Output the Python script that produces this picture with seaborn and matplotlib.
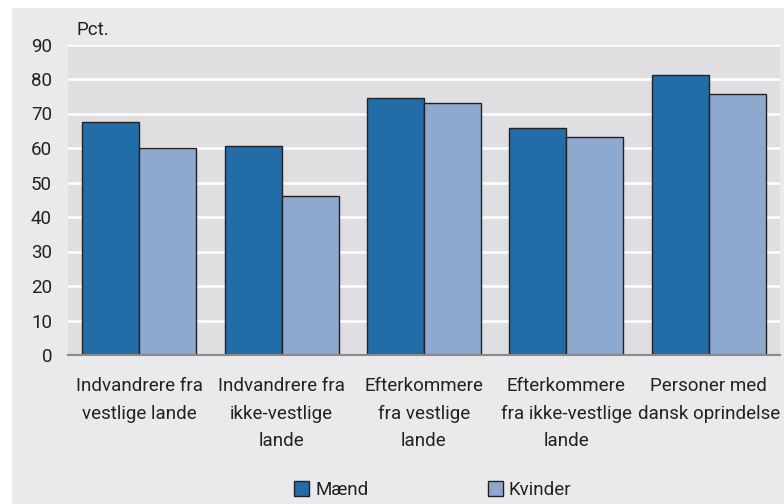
import matplotlib
matplotlib.use("Agg")
import matplotlib.pyplot as plt
import seaborn as sns
import pandas as pd
from matplotlib.patches import Rectangle, Patch

# data
categories = [
    "Indvandrere fra\nvestlige lande",
    "Indvandrere fra\nikke-vestlige\nlande",
    "Efterkommere\nfra vestlige\nlande",
    "Efterkommere\nfra ikke-vestlige\nlande",
    "Personer med\ndansk oprindelse",
]
maend = [67.4, 60.5, 74.5, 65.7, 81.1]
kvinder = [59.9, 46.0, 73.0, 63.3, 75.6]
series_names = ["Mænd", "Kvinder"]
yticks = [0, 10, 20, 30, 40, 50, 60, 70, 80, 90]

colors = ["#226CA8", "#8EA8CE"]

df = pd.DataFrame({
    "gruppe": categories * 2,
    "køn": [series_names[0]] * len(categories) + [series_names[1]] * len(categories),
    "pct": maend + kvinder,
})

sns.set_theme(style="white")
plt.rcParams['font.family'] = ['Roboto', 'DejaVu Sans']
plt.rcParams['text.color'] = '#222222'

fig = plt.figure(figsize=(7.84, 5.04), dpi=100)
fig.patch.set_facecolor("white")
# light grey panel behind the whole chart
fig.patches.append(Rectangle((12 / 784, 0), 1 - 12 / 784, 1 - 8 / 504,
                             transform=fig.transFigure, facecolor="#EAEAEC",
                             edgecolor="none", zorder=-5))

ax = fig.add_axes([68 / 784, 1 - 355 / 504, 712 / 784, 310.5 / 504])
sns.barplot(data=df, x="gruppe", y="pct", hue="køn", palette=colors,
            width=0.8, edgecolor="#222222", linewidth=1.0, ax=ax,
            legend=False, saturation=1)

ax.set_facecolor("#DFDFE1")
ax.set_ylim(0, 90)
ax.set_yticks(yticks)
ax.yaxis.grid(True, color="white", linewidth=1.8)
ax.set_axisbelow(True)
for s in ["top", "right", "left"]:
    ax.spines[s].set_visible(False)
ax.spines["bottom"].set_color("#8A8A8A")
ax.spines["bottom"].set_linewidth(1.5)
ax.tick_params(axis="both", length=0, colors="#222222")
ax.tick_params(axis="y", pad=11.5, labelsize=13.5)
ax.tick_params(axis="x", pad=16, labelsize=13.5)
for lbl in ax.get_xticklabels():
    lbl.set_linespacing(1.68)
ax.set_xlabel("")
ax.set_ylabel("")
ax.text(77 / 784, 1 - 30 / 504, "Pct.", transform=fig.transFigure,
        fontsize=13.5, va="center", ha="left")

handles = [Patch(facecolor=c, edgecolor="#222222", linewidth=1.0) for c in colors]
fig.legend(handles, series_names, loc="center", bbox_to_anchor=(433 / 784, 1 - 490 / 504),
           ncol=2, frameon=False, fontsize=13.5, handlelength=0.8, handleheight=0.8,
           handletextpad=0.3, columnspacing=6.4)

fig.savefig("out.png", dpi=100, facecolor=fig.get_facecolor())
